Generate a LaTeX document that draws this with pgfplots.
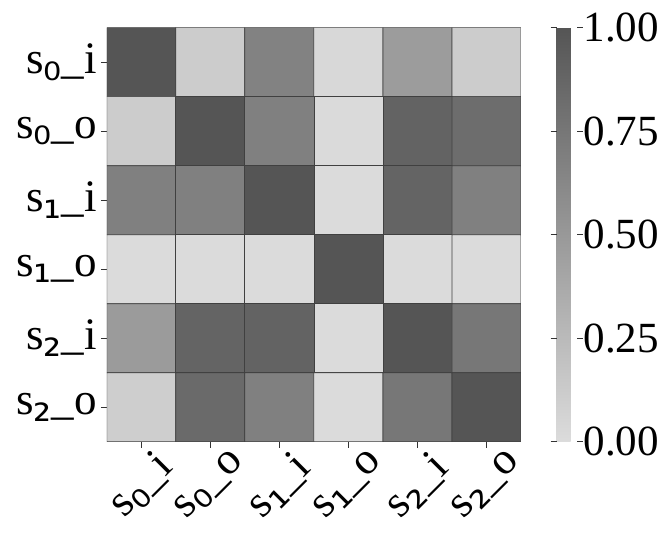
\documentclass[border={12pt 14pt 4pt 12pt}]{standalone}
\usepackage{fontspec}
\setmainfont{Liberation Serif}
\newfontfamily\dv{DejaVu Sans}
\usepackage{pgfplots}
\pgfplotsset{compat=1.18}
\usepackage{pgfplotstable}

% correlation matrix, row by row (y = row index, x = column index)
\pgfplotstableread{
x y c
0 0 1.00
1 0 0.12
2 0 0.66
3 0 0.03
4 0 0.47
5 0 0.12
0 1 0.12
1 1 1.00
2 1 0.68
3 1 0.015
4 1 0.89
5 1 0.82
0 2 0.68
1 2 0.68
2 2 1.00
3 2 0.01
4 2 0.88
5 2 0.68
0 3 0.01
1 3 0.01
2 3 0.01
3 3 1.00
4 3 0.01
5 3 0.01
0 4 0.48
1 4 0.88
2 4 0.89
3 4 0.01
4 4 1.00
5 4 0.74
0 5 0.10
1 5 0.84
2 5 0.68
3 5 0.01
4 5 0.74
5 5 1.00
}\corr

\DeclareRobustCommand{\lab}[2]{s\raisebox{-0.14em}{\dv #1}\_#2}

\begin{document}
\begin{tikzpicture}
\begin{axis}[
    width=414pt, height=414pt, scale only axis,
    xmin=-0.5, xmax=5.5, ymin=-0.5, ymax=5.5, y dir=reverse,
    xtick={0,...,5}, ytick={0,...,5},
    xticklabels={\lab{₀}{i},\lab{₀}{o},\lab{₁}{i},\lab{₁}{o},\lab{₂}{i},\lab{₂}{o}},
    yticklabels={\lab{₀}{i},\lab{₀}{o},\lab{₁}{i},\lab{₁}{o},\lab{₂}{i},\lab{₂}{o}},
    xtick pos=bottom, ytick pos=left,
    tick align=outside, major tick length=6pt,
    tick style={black!80, line width=0.8pt},
    axis line style={draw=none},
    tick label style={font=\fontsize{45}{47}\selectfont},
    yticklabel style={inner sep=4pt},
    xticklabel style={yshift=-38pt, rotate=45, anchor=center, inner sep=0pt},
    colormap={bw}{rgb255=(220,220,220) rgb255=(85,85,85)},
    point meta min=0, point meta max=1,
    colorbar,
    colorbar style={
        width=20pt,
        at={(parent axis.north east)}, anchor=north west, xshift=27pt,
        ytick={0,0.25,0.5,0.75,1},
        yticklabel style={font=\fontsize{43}{45}\selectfont, inner sep=1pt,
            /pgf/number format/.cd, fixed, fixed zerofill, precision=2,
            assume math mode=true},
        tick align=outside, major tick length=6pt,
        tick style={black!80, line width=0.8pt},
        axis line style={draw=none},
    },
  ]
\addplot[matrix plot*, mesh/cols=6, point meta=explicit,
         draw=black!75, line width=0.7pt] table[meta=c] {\corr};
\end{axis}
\end{tikzpicture}
\end{document}
